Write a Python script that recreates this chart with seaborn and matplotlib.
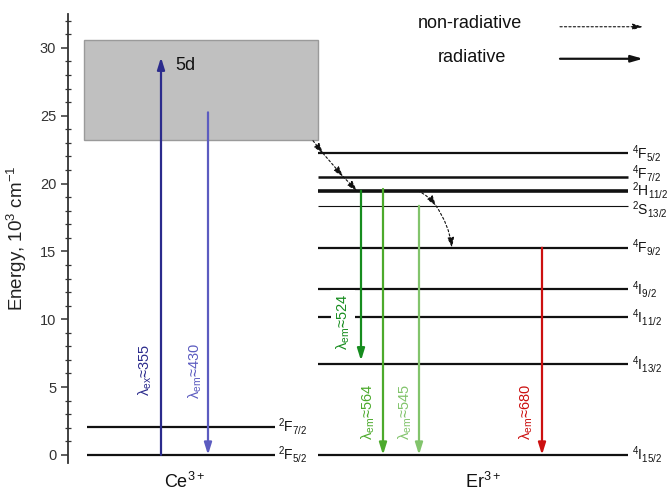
import matplotlib
matplotlib.use('Agg')
import matplotlib.pyplot as plt
import seaborn as sns
from matplotlib.patches import Rectangle
from matplotlib.ticker import MultipleLocator

# ---------------- data ----------------
ce_levels = ['$^2$F$_{5/2}$', '$^2$F$_{7/2}$']
ce_energy = [0.0, 2.07]
band_label = '5d'
band_energy = [23.2, 30.6]

er_levels = ['$^4$I$_{15/2}$', '$^4$I$_{13/2}$', '$^4$I$_{11/2}$', '$^4$I$_{9/2}$',
             '$^4$F$_{9/2}$', '$^2$S$_{13/2}$', '$^2$H$_{11/2}$', '$^4$F$_{7/2}$',
             '$^4$F$_{5/2}$']
er_energy = [0.0, 6.69, 10.13, 12.22, 15.27, 18.36, 19.47, 20.52, 22.23]
er_widths = [1.6, 1.6, 1.6, 1.6, 1.6, 0.8, 2.6, 1.8, 1.6]
er_label_shift = [0, 0, 0, 0, 0, -0.25, 0.05, 0.2, 0]

trans_labels = ['λ$_{ex}$≈355', 'λ$_{em}$≈430', 'λ$_{em}$≈524',
                'λ$_{em}$≈564', 'λ$_{em}$≈545', 'λ$_{em}$≈680']
trans_start = [0.0, 25.25, 19.47, 19.6, 18.36, 15.27]
trans_end = [29.3, 0.0, 6.95, 0.0, 0.0, 0.0]
trans_colors = ['#2b2b8c', '#5c5cc0', '#168c1e', '#4caa2c', '#82c46c', '#cc1010']
trans_label_e = [6.27, 6.2, 9.8, 3.17, 3.17, 3.17]

nr_path1_e = [23.16, 22.23, 20.52, 19.47]
nr_path2_e = [19.47, 18.36, 15.27]

ion_labels = ['Ce$^{3+}$', 'Er$^{3+}$']
legend_labels = ['non-radiative', 'radiative']

# ---------------- layout (pixel-like x coordinates) ----------------
ce_x = (87, 275)
er_x = (318, 628)
band_x = (84, 318)
trans_x = [161, 208, 361, 383, 419, 542]
trans_label_x = [145, 195, 343, 368, 405, 526]
nr_path1_x = [313, 323, 343, 357]
nr_path2_x = [418, 436, 452]

sns.set_theme(style='white')
plt.rcParams['font.family'] = ['Liberation Sans', 'DejaVu Sans']
plt.rcParams['mathtext.fontset'] = 'custom'
plt.rcParams['mathtext.rm'] = 'Liberation Sans'
plt.rcParams['mathtext.it'] = 'Liberation Sans:italic'
plt.rcParams['mathtext.bf'] = 'Liberation Sans:bold'
plt.rcParams['mathtext.default'] = 'regular'

fig = plt.figure(figsize=(6.68, 4.96), dpi=100)
ax = fig.add_axes([68 / 668, 33 / 496, 600 / 668, 449 / 496])
ax.set_xlim(68, 668)
ax.set_ylim(-0.6, 32.5)

sns.despine(ax=ax, left=False, bottom=True, top=True, right=True)
ax.spines['left'].set_color('#333333')
ax.spines['left'].set_linewidth(1.3)
ax.xaxis.set_visible(False)
ax.yaxis.set_major_locator(MultipleLocator(5))
ax.yaxis.set_minor_locator(MultipleLocator(1))
ax.tick_params(axis='y', which='major', direction='out', length=5, width=1.1,
               color='#333333', labelsize=10.5, labelcolor='#333333', left=True)
ax.tick_params(axis='y', which='minor', direction='inout', length=4, width=0.9,
               color='#333333', left=True)
ax.set_ylabel('Energy, 10$^3$ cm$^{-1}$', fontsize=13.5, color='#222222', labelpad=8)

# 5d band
ax.add_patch(Rectangle((band_x[0], band_energy[0]), band_x[1] - band_x[0],
                       band_energy[1] - band_energy[0], facecolor='#c0c0c0',
                       edgecolor='#9a9a9a', lw=1, zorder=1))
ax.text(175, 28.7, band_label, fontsize=13, ha='left', va='center', color='#111111')

# levels
for lab, e in zip(ce_levels, ce_energy):
    ax.hlines(e, ce_x[0], ce_x[1], color='#111111', lw=1.6, zorder=2)
    ax.text(ce_x[1] + 3, e, lab, fontsize=10, ha='left', va='center', color='#111111')
for lab, e, w, d in zip(er_levels, er_energy, er_widths, er_label_shift):
    ax.hlines(e, er_x[0], er_x[1], color='#111111', lw=w, zorder=2)
    ax.text(er_x[1] + 4, e + d, lab, fontsize=10, ha='left', va='center', color='#111111')

# radiative transitions
for x, s, e, c, lab, lx, le in zip(trans_x, trans_start, trans_end, trans_colors,
                                   trans_labels, trans_label_x, trans_label_e):
    ax.annotate('', xy=(x, e), xytext=(x, s),
                arrowprops=dict(arrowstyle='-|>,head_length=0.7,head_width=0.22',
                                color=c, lw=1.6, shrinkA=0, shrinkB=0,
                                mutation_scale=10), zorder=3)
    bbox = None
    if lab.endswith('524'):
        bbox = dict(facecolor='white', edgecolor='none', pad=2.5)
    ax.text(lx, le, lab, rotation=90, color=c, fontsize=10.5, ha='center',
            va='center', bbox=bbox, zorder=4)

# non-radiative transitions
def nr_arrow(x0, e0, x1, e1, rad=0.0):
    ax.annotate('', xy=(x1, e1), xytext=(x0, e0),
                arrowprops=dict(arrowstyle='-|>,head_length=0.6,head_width=0.2',
                                color='#111111', lw=0.8, linestyle=(0, (2, 2)),
                                shrinkA=0, shrinkB=0, mutation_scale=10,
                                connectionstyle=f'arc3,rad={rad}'), zorder=4)

for i in range(len(nr_path1_x) - 1):
    nr_arrow(nr_path1_x[i], nr_path1_e[i], nr_path1_x[i + 1], nr_path1_e[i + 1])
for i in range(len(nr_path2_x) - 1):
    nr_arrow(nr_path2_x[i], nr_path2_e[i], nr_path2_x[i + 1], nr_path2_e[i + 1], rad=-0.12)

# ion labels
ax.text(sum(ce_x) / 2 + 4, -2.0, ion_labels[0], fontsize=13, ha='center', va='center',
        clip_on=False, color='#111111')
ax.text(483, -2.0, ion_labels[1], fontsize=13, ha='center', va='center',
        clip_on=False, color='#111111')

# legend
ax.text(470, 31.8, legend_labels[0], fontsize=13, ha='center', va='center', color='#111111')
ax.text(472, 29.3, legend_labels[1], fontsize=13, ha='center', va='center', color='#111111')
ax.annotate('', xy=(643, 31.56), xytext=(560, 31.56),
            arrowprops=dict(arrowstyle='-|>,head_length=0.6,head_width=0.18',
                            color='#111111', lw=0.8, linestyle=(0, (2, 2)),
                            shrinkA=0, shrinkB=0, mutation_scale=10))
ax.annotate('', xy=(643, 29.2), xytext=(560, 29.2),
            arrowprops=dict(arrowstyle='-|>,head_length=0.7,head_width=0.2',
                            color='#111111', lw=1.6, shrinkA=0, shrinkB=0,
                            mutation_scale=10))

fig.savefig('out.png', dpi=100)
